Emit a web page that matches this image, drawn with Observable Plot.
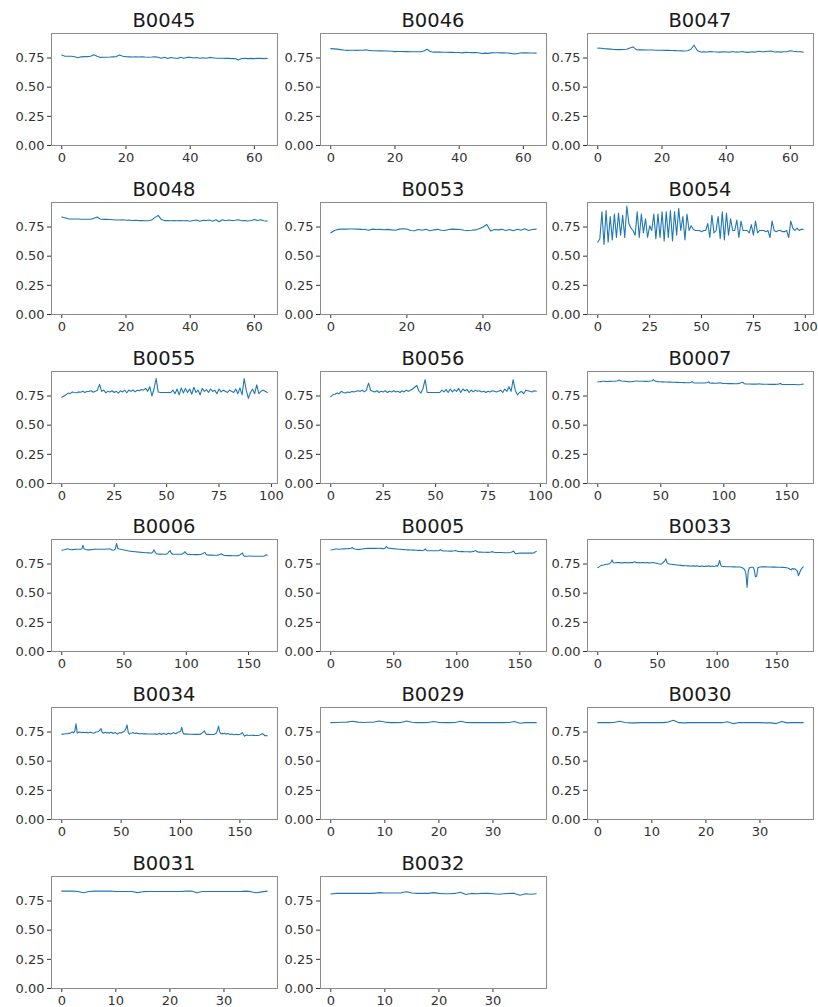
<!DOCTYPE html>
<html><head><meta charset="utf-8">
<script src="https://cdn.jsdelivr.net/npm/d3@7"></script>
<script src="https://cdn.jsdelivr.net/npm/@observablehq/plot@0.6"></script>
<style>
body{margin:0;background:#fff;}
#fig{position:relative;width:818px;height:1007px;overflow:hidden;font-family:"DejaVu Sans",sans-serif;background:#fff;}
.title{position:absolute;font-size:19.5px;line-height:22px;color:#1a1a1a;text-align:center;white-space:nowrap;}
.panel{position:absolute;}
.panel svg{overflow:visible;max-width:none !important;display:block;}
</style></head><body><div id="fig"></div>
<script>
// ---- data ----
const names = ["B0045","B0046","B0047","B0048","B0053","B0054","B0055","B0056","B0007","B0006","B0005","B0033","B0034","B0029","B0030","B0031","B0032"];
const yTicks = [0, 0.25, 0.5, 0.75];
const ticks20 = [0, 20, 40, 60];
const ticks20s = [0, 20, 40];
const ticks25 = [0, 25, 50, 75, 100];
const ticks50 = [0, 50, 100, 150];
const ticks10 = [0, 10, 20, 30];

const b0045 = [0.775,0.765,0.765,0.765,0.760,0.752,0.760,0.762,0.762,0.765,0.778,0.765,0.755,0.757,0.757,0.758,0.760,0.762,0.775,0.765,0.762,0.760,0.758,0.760,0.758,0.760,0.758,0.757,0.758,0.760,0.757,0.748,0.757,0.745,0.755,0.750,0.745,0.757,0.748,0.755,0.757,0.750,0.755,0.748,0.752,0.748,0.755,0.752,0.748,0.748,0.748,0.747,0.748,0.745,0.745,0.732,0.745,0.748,0.745,0.747,0.745,0.747,0.747,0.745,0.747];
const b0046 = [0.830,0.828,0.826,0.822,0.818,0.815,0.816,0.816,0.815,0.816,0.816,0.820,0.815,0.812,0.812,0.811,0.811,0.810,0.810,0.808,0.805,0.806,0.806,0.805,0.805,0.804,0.804,0.803,0.803,0.810,0.825,0.805,0.800,0.800,0.800,0.799,0.799,0.798,0.798,0.797,0.797,0.794,0.798,0.797,0.796,0.796,0.795,0.788,0.792,0.790,0.794,0.795,0.795,0.794,0.794,0.793,0.790,0.785,0.786,0.793,0.795,0.794,0.793,0.793,0.792];
const b0047 = [0.835,0.833,0.830,0.828,0.826,0.823,0.822,0.822,0.823,0.825,0.835,0.845,0.822,0.820,0.820,0.819,0.818,0.818,0.817,0.817,0.816,0.815,0.815,0.814,0.813,0.812,0.811,0.810,0.812,0.825,0.860,0.815,0.802,0.803,0.802,0.805,0.803,0.802,0.800,0.803,0.802,0.800,0.805,0.800,0.802,0.806,0.800,0.798,0.803,0.800,0.808,0.803,0.805,0.808,0.810,0.802,0.803,0.800,0.803,0.805,0.812,0.808,0.805,0.803,0.800];
const b0048 = [0.835,0.830,0.820,0.818,0.818,0.818,0.817,0.817,0.817,0.817,0.825,0.835,0.818,0.815,0.815,0.814,0.812,0.810,0.810,0.812,0.808,0.810,0.806,0.808,0.805,0.806,0.804,0.803,0.810,0.830,0.850,0.815,0.805,0.805,0.803,0.806,0.803,0.805,0.803,0.805,0.800,0.805,0.810,0.800,0.808,0.805,0.810,0.800,0.812,0.795,0.812,0.803,0.810,0.805,0.808,0.812,0.803,0.805,0.802,0.806,0.815,0.805,0.812,0.803,0.800];
const b0053 = [0.700,0.720,0.730,0.732,0.732,0.733,0.733,0.732,0.730,0.728,0.722,0.732,0.728,0.730,0.727,0.730,0.725,0.722,0.732,0.735,0.733,0.720,0.718,0.728,0.722,0.730,0.718,0.725,0.730,0.722,0.720,0.728,0.732,0.730,0.728,0.722,0.720,0.722,0.725,0.735,0.750,0.772,0.715,0.728,0.725,0.730,0.720,0.728,0.718,0.730,0.722,0.735,0.720,0.728,0.732];
const b0054 = [0.62,0.65,0.88,0.60,0.89,0.62,0.84,0.64,0.86,0.66,0.87,0.68,0.85,0.66,0.93,0.78,0.74,0.72,0.68,0.88,0.66,0.86,0.70,0.82,0.66,0.76,0.72,0.86,0.65,0.86,0.66,0.88,0.63,0.88,0.66,0.89,0.63,0.88,0.68,0.91,0.72,0.84,0.64,0.86,0.72,0.76,0.73,0.72,0.72,0.72,0.71,0.72,0.72,0.78,0.66,0.85,0.70,0.72,0.84,0.65,0.88,0.64,0.87,0.68,0.82,0.72,0.72,0.81,0.66,0.80,0.72,0.72,0.72,0.70,0.77,0.68,0.80,0.70,0.72,0.72,0.72,0.71,0.72,0.66,0.80,0.72,0.71,0.72,0.72,0.71,0.71,0.72,0.66,0.80,0.74,0.72,0.74,0.72,0.73,0.73];
const b0055 = [0.740,0.750,0.760,0.775,0.770,0.785,0.780,0.778,0.785,0.782,0.790,0.780,0.788,0.790,0.795,0.782,0.790,0.800,0.850,0.790,0.800,0.778,0.790,0.785,0.795,0.780,0.790,0.775,0.795,0.785,0.800,0.778,0.800,0.790,0.802,0.785,0.800,0.795,0.805,0.800,0.815,0.790,0.830,0.750,0.810,0.900,0.785,0.780,0.780,0.780,0.780,0.780,0.780,0.800,0.770,0.810,0.760,0.820,0.775,0.815,0.780,0.810,0.765,0.825,0.780,0.800,0.760,0.815,0.790,0.805,0.780,0.810,0.790,0.800,0.770,0.810,0.785,0.800,0.790,0.780,0.800,0.790,0.780,0.810,0.770,0.820,0.760,0.900,0.800,0.730,0.780,0.810,0.770,0.845,0.770,0.790,0.800,0.790,0.780];
const b0056 = [0.745,0.760,0.765,0.775,0.770,0.790,0.780,0.775,0.785,0.780,0.788,0.785,0.790,0.795,0.790,0.800,0.785,0.800,0.860,0.800,0.790,0.785,0.795,0.780,0.790,0.785,0.795,0.780,0.790,0.785,0.795,0.785,0.790,0.780,0.795,0.785,0.800,0.790,0.800,0.810,0.825,0.840,0.795,0.775,0.815,0.890,0.780,0.780,0.780,0.780,0.780,0.780,0.780,0.800,0.785,0.805,0.780,0.810,0.785,0.805,0.790,0.815,0.780,0.810,0.795,0.805,0.780,0.800,0.785,0.800,0.790,0.795,0.785,0.790,0.780,0.790,0.785,0.795,0.790,0.785,0.790,0.800,0.780,0.810,0.790,0.830,0.790,0.890,0.800,0.760,0.780,0.790,0.770,0.800,0.795,0.790,0.785,0.795,0.790];
const b0007 = [0.870,0.872,0.873,0.875,0.876,0.876,0.875,0.874,0.874,0.875,0.875,0.876,0.876,0.877,0.877,0.878,0.880,0.888,0.880,0.878,0.877,0.876,0.875,0.874,0.873,0.872,0.872,0.873,0.875,0.877,0.878,0.878,0.877,0.877,0.876,0.876,0.876,0.875,0.875,0.875,0.876,0.877,0.878,0.880,0.890,0.880,0.876,0.875,0.873,0.872,0.872,0.871,0.871,0.870,0.870,0.870,0.869,0.869,0.869,0.868,0.868,0.868,0.867,0.867,0.867,0.866,0.866,0.866,0.865,0.865,0.864,0.864,0.864,0.865,0.868,0.872,0.864,0.862,0.862,0.862,0.862,0.861,0.861,0.861,0.861,0.862,0.864,0.866,0.870,0.862,0.860,0.860,0.860,0.859,0.859,0.860,0.861,0.863,0.862,0.858,0.857,0.857,0.857,0.856,0.856,0.856,0.856,0.856,0.855,0.855,0.855,0.856,0.858,0.862,0.866,0.868,0.858,0.854,0.853,0.853,0.853,0.853,0.852,0.852,0.852,0.852,0.852,0.853,0.854,0.853,0.852,0.851,0.851,0.851,0.851,0.851,0.850,0.850,0.850,0.850,0.850,0.850,0.851,0.852,0.854,0.857,0.850,0.849,0.849,0.849,0.849,0.849,0.849,0.849,0.848,0.848,0.848,0.848,0.847,0.847,0.847,0.848,0.850,0.852];
const b0006 = [0.868,0.870,0.872,0.875,0.878,0.880,0.876,0.872,0.872,0.873,0.874,0.875,0.876,0.876,0.876,0.877,0.878,0.910,0.878,0.874,0.872,0.871,0.871,0.872,0.873,0.874,0.876,0.878,0.877,0.876,0.876,0.876,0.876,0.876,0.877,0.877,0.878,0.878,0.879,0.878,0.872,0.868,0.870,0.880,0.925,0.885,0.878,0.876,0.874,0.872,0.870,0.868,0.866,0.864,0.862,0.860,0.858,0.857,0.856,0.855,0.854,0.853,0.852,0.851,0.850,0.849,0.848,0.847,0.846,0.845,0.845,0.844,0.843,0.850,0.872,0.850,0.838,0.836,0.835,0.835,0.835,0.834,0.834,0.834,0.835,0.840,0.855,0.865,0.842,0.834,0.834,0.834,0.834,0.833,0.833,0.833,0.834,0.838,0.845,0.855,0.840,0.833,0.832,0.831,0.831,0.831,0.830,0.830,0.830,0.830,0.830,0.831,0.833,0.838,0.845,0.848,0.832,0.828,0.826,0.826,0.826,0.826,0.825,0.825,0.825,0.826,0.828,0.832,0.838,0.832,0.825,0.823,0.823,0.822,0.822,0.822,0.822,0.821,0.821,0.821,0.821,0.822,0.824,0.828,0.835,0.845,0.822,0.815,0.816,0.817,0.818,0.818,0.818,0.817,0.817,0.817,0.817,0.816,0.816,0.816,0.816,0.816,0.817,0.820,0.830,0.825];
const b0005 = [0.870,0.872,0.875,0.877,0.878,0.878,0.877,0.877,0.878,0.879,0.880,0.880,0.881,0.881,0.882,0.883,0.885,0.892,0.882,0.878,0.876,0.875,0.874,0.875,0.876,0.878,0.880,0.882,0.883,0.884,0.884,0.884,0.884,0.884,0.884,0.884,0.884,0.885,0.885,0.885,0.884,0.882,0.880,0.885,0.900,0.890,0.885,0.884,0.883,0.882,0.881,0.880,0.879,0.878,0.877,0.876,0.875,0.874,0.873,0.872,0.872,0.871,0.871,0.870,0.870,0.869,0.869,0.868,0.868,0.867,0.867,0.867,0.866,0.866,0.870,0.878,0.866,0.864,0.864,0.864,0.864,0.864,0.863,0.863,0.863,0.864,0.866,0.872,0.866,0.862,0.862,0.861,0.861,0.861,0.860,0.860,0.860,0.861,0.863,0.866,0.862,0.858,0.857,0.856,0.856,0.856,0.855,0.855,0.855,0.855,0.854,0.854,0.855,0.858,0.862,0.865,0.856,0.852,0.852,0.852,0.851,0.851,0.851,0.851,0.850,0.850,0.851,0.853,0.856,0.852,0.850,0.849,0.849,0.848,0.848,0.848,0.848,0.847,0.847,0.847,0.847,0.847,0.848,0.850,0.855,0.862,0.845,0.838,0.840,0.842,0.843,0.843,0.843,0.843,0.843,0.843,0.843,0.843,0.843,0.843,0.843,0.845,0.852,0.858];
const b0033 = [0.720,0.725,0.732,0.738,0.740,0.742,0.745,0.748,0.748,0.750,0.752,0.765,0.785,0.760,0.758,0.760,0.762,0.762,0.762,0.760,0.760,0.760,0.762,0.762,0.762,0.760,0.760,0.762,0.762,0.762,0.765,0.770,0.762,0.762,0.760,0.762,0.760,0.762,0.762,0.760,0.760,0.762,0.760,0.760,0.758,0.760,0.762,0.760,0.758,0.756,0.755,0.752,0.750,0.748,0.755,0.765,0.775,0.795,0.760,0.752,0.750,0.748,0.748,0.746,0.745,0.744,0.742,0.742,0.740,0.738,0.738,0.736,0.736,0.735,0.735,0.734,0.734,0.733,0.733,0.732,0.735,0.732,0.732,0.735,0.732,0.730,0.730,0.733,0.730,0.730,0.728,0.732,0.730,0.735,0.728,0.730,0.732,0.728,0.730,0.735,0.730,0.745,0.780,0.738,0.730,0.728,0.728,0.727,0.727,0.727,0.726,0.726,0.726,0.725,0.725,0.725,0.724,0.724,0.724,0.724,0.722,0.718,0.712,0.700,0.670,0.550,0.690,0.718,0.720,0.722,0.722,0.700,0.640,0.645,0.718,0.722,0.724,0.725,0.725,0.725,0.725,0.725,0.724,0.724,0.724,0.724,0.723,0.723,0.723,0.723,0.722,0.722,0.722,0.722,0.721,0.721,0.720,0.720,0.718,0.716,0.712,0.705,0.700,0.712,0.705,0.710,0.700,0.690,0.650,0.675,0.700,0.715,0.725];
const b0034 = [0.730,0.732,0.733,0.735,0.735,0.736,0.738,0.740,0.745,0.750,0.742,0.760,0.820,0.740,0.748,0.750,0.748,0.745,0.748,0.746,0.745,0.748,0.742,0.745,0.748,0.745,0.742,0.740,0.745,0.750,0.752,0.755,0.765,0.780,0.748,0.740,0.745,0.748,0.742,0.745,0.740,0.745,0.748,0.738,0.742,0.745,0.740,0.732,0.740,0.745,0.742,0.748,0.752,0.760,0.780,0.810,0.745,0.732,0.740,0.742,0.745,0.740,0.738,0.742,0.738,0.736,0.735,0.736,0.735,0.734,0.734,0.734,0.733,0.733,0.733,0.733,0.733,0.733,0.732,0.735,0.728,0.732,0.738,0.735,0.728,0.735,0.738,0.732,0.728,0.735,0.740,0.732,0.735,0.738,0.745,0.740,0.735,0.742,0.748,0.752,0.755,0.790,0.745,0.732,0.735,0.732,0.732,0.731,0.731,0.731,0.731,0.730,0.730,0.730,0.730,0.730,0.730,0.732,0.740,0.748,0.760,0.740,0.728,0.730,0.730,0.729,0.729,0.729,0.730,0.732,0.740,0.760,0.800,0.750,0.735,0.738,0.735,0.740,0.732,0.735,0.738,0.730,0.728,0.733,0.730,0.726,0.728,0.730,0.726,0.728,0.730,0.735,0.745,0.728,0.715,0.722,0.725,0.722,0.720,0.722,0.722,0.721,0.721,0.720,0.720,0.720,0.722,0.725,0.732,0.735,0.728,0.718,0.720,0.718];
const b0029 = [0.830,0.832,0.833,0.835,0.842,0.835,0.832,0.833,0.835,0.845,0.835,0.830,0.830,0.832,0.845,0.833,0.830,0.830,0.832,0.840,0.832,0.830,0.830,0.832,0.842,0.832,0.830,0.830,0.830,0.830,0.830,0.830,0.830,0.832,0.840,0.825,0.830,0.830,0.830];
const b0030 = [0.830,0.830,0.830,0.832,0.842,0.832,0.828,0.828,0.830,0.830,0.832,0.830,0.830,0.835,0.850,0.830,0.828,0.830,0.830,0.830,0.832,0.830,0.830,0.830,0.838,0.822,0.830,0.830,0.830,0.830,0.830,0.828,0.828,0.822,0.840,0.828,0.830,0.830,0.830];
const b0031 = [0.835,0.835,0.835,0.832,0.820,0.832,0.835,0.835,0.835,0.835,0.832,0.832,0.832,0.832,0.822,0.830,0.832,0.832,0.832,0.832,0.832,0.832,0.832,0.835,0.835,0.820,0.832,0.832,0.832,0.832,0.832,0.832,0.832,0.832,0.835,0.830,0.820,0.828,0.835];
const b0032 = [0.810,0.815,0.815,0.815,0.815,0.815,0.815,0.815,0.815,0.822,0.818,0.818,0.818,0.820,0.830,0.818,0.815,0.815,0.815,0.822,0.815,0.812,0.812,0.815,0.825,0.805,0.815,0.812,0.815,0.815,0.812,0.808,0.812,0.815,0.815,0.800,0.812,0.808,0.812];

const seriesValues = [b0045,b0046,b0047,b0048,b0053,b0054,b0055,b0056,b0007,b0006,b0005,b0033,b0034,b0029,b0030,b0031,b0032];
const seriesTicks = [ticks20,ticks20,ticks20,ticks20,ticks20s,ticks25,ticks25,ticks25,ticks50,ticks50,ticks50,ticks50,ticks50,ticks10,ticks10,ticks10,ticks10];

// ---- layout ----
const colLeft = [51, 320, 587];
const rowTop = [33, 202, 371, 539, 707, 876];
const W = 226, H = 112;
const ML = 52, MR = 14, MT = 2, MB = 26;
const yMax = 0.96;

const fig = document.getElementById("fig");
names.forEach((name, i) => {
  const r = Math.floor(i / 3), c = i % 3;
  const vals = seriesValues[i];
  const n = vals.length - 1;
  const data = vals.map((v, j) => ({cycle: j, value: v}));
  const svg = Plot.plot({
    width: W + ML + MR, height: H + MT + MB,
    marginLeft: ML, marginRight: MR, marginTop: MT, marginBottom: MB,
    style: {fontFamily: "DejaVu Sans, sans-serif", fontSize: "13px", color: "#333", background: "transparent", overflow: "visible", maxWidth: "none"},
    x: {domain: [-0.05 * n, 1.05 * n], ticks: seriesTicks[i], tickFormat: d => String(d), tickSize: 4, tickPadding: 3, label: null},
    y: {domain: [0, yMax], ticks: yTicks, tickFormat: ".2f", tickSize: 4, tickPadding: 3, label: null},
    marks: [
      Plot.frame({stroke: "#8c8c8c", strokeWidth: 1}),
      Plot.line(data, {x: "cycle", y: "value", stroke: "#1f77b4", strokeWidth: 1.1})
    ]
  });
  const wrap = document.createElement("div");
  wrap.className = "panel";
  wrap.style.left = (colLeft[c] - ML) + "px";
  wrap.style.top = (rowTop[r] - MT) + "px";
  wrap.style.width = (W + ML + MR) + "px";
  wrap.style.height = (H + MT + MB) + "px";
  wrap.appendChild(svg);
  fig.appendChild(wrap);
  const t = document.createElement("div");
  t.className = "title";
  t.textContent = name;
  t.style.left = colLeft[c] + "px";
  t.style.width = W + "px";
  t.style.top = (rowTop[r] - 23) + "px";
  fig.appendChild(t);
});
</script></body></html>
